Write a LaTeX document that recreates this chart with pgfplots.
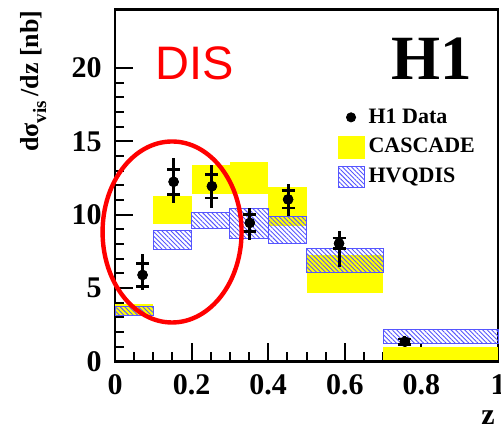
\documentclass[border=0pt]{standalone}
\usepackage{pgfplots}
\pgfplotsset{compat=1.18}
\usepackage{pgfplotstable}
\usepackage{fontspec}
\setmainfont{Liberation Serif}
\newfontfamily\arialfont{Liberation Sans}
\usetikzlibrary{patterns.meta}

\definecolor{hvqblue}{RGB}{85,85,255}
\definecolor{cascyellow}{RGB}{255,255,0}

% H1 data: x, y, total error (+/-), statistical error (+/-)
\pgfplotstableread{
x     y     tp    tm    sp    sm
0.072 5.90  1.43  1.05  0.77  0.77
0.153 12.25 1.62  1.45  0.85  0.85
0.253 11.95 1.42  1.49  0.80  0.80
0.352 9.45  1.00  1.16  0.57  0.57
0.452 11.05 1.05  1.16  0.60  0.60
0.585 8.05  0.85  1.58  0.36  0.36
0.757 1.35  0.38  0.30  0.20  0.20
}\hone

\tikzset{
  hvq/.style={draw=hvqblue, line width=0.5pt,
    pattern={Lines[angle=-45,distance=1.6pt,line width=0.45pt]}, pattern color=hvqblue},
}

% prediction bands: xlo xhi ylo yhi
\newcommand{\cascbox}[4]{\addplot[forget plot, fill=cascyellow, draw=none] coordinates {(#1,#3) (#2,#3) (#2,#4) (#1,#4)} -- cycle;}
\newcommand{\hvqbox}[4]{\addplot[forget plot, hvq] coordinates {(#1,#3) (#2,#3) (#2,#4) (#1,#4)} -- cycle;}

\begin{document}
\begin{tikzpicture}
\begin{axis}[
  scale only axis, width=191.5pt, height=176pt,
  xmin=0, xmax=1, ymin=0, ymax=24,
  clip=false,
  axis line style={line width=1.25pt},
  tick pos=left, tick align=inside,
  xtick={0,0.2,0.4,0.6,0.8,1}, minor x tick num=3,
  ytick={0,5,10,15,20}, minor y tick num=4,
  major tick length=9pt, minor tick length=4.5pt,
  tick style={black, line width=1pt},
  /pgf/number format/assume math mode=true,
  ticklabel style={font=\bfseries\fontsize{15}{15}\selectfont, inner sep=0pt},
  xticklabel style={anchor=base, yshift=-16.75pt},
  yticklabel style={anchor=east, xshift=-6.5pt},
  xlabel={z},
  xlabel style={at={(axis description cs:0.974,-0.18)}, anchor=base, inner sep=0pt,
    font=\bfseries\fontsize{15}{15}\selectfont},
  ylabel={dσ\raisebox{-4pt}{\fontsize{9.5}{9.5}\selectfont vis}\,/dz [nb]},
  ylabel style={at={(axis description cs:-0.201,0.998)}, anchor=base east, inner sep=0pt,
    font=\bfseries\fontsize{13}{13}\selectfont},
  legend style={at={(rel axis cs:0.58,0.731)}, anchor=north west, draw=none, fill=none,
    inner sep=0pt, row sep=2.1pt, font=\bfseries\fontsize{11}{11}\selectfont,
    /tikz/every even column/.append style={column sep=3.5pt}},
  legend cell align=left,
]
% CASCADE
\cascbox{0.0}{0.1}{3.17}{3.92}
\cascbox{0.1}{0.2}{9.37}{11.30}
\cascbox{0.2}{0.3}{11.42}{13.41}
\cascbox{0.3}{0.4}{11.40}{13.58}
\cascbox{0.4}{0.5}{9.25}{11.93}
\cascbox{0.5}{0.7}{4.67}{7.27}
\cascbox{0.7}{1.0}{0.08}{1.01}
% HVQDIS
\hvqbox{0.0}{0.1}{3.17}{3.74}
\hvqbox{0.1}{0.2}{7.61}{8.92}
\hvqbox{0.2}{0.3}{9.09}{10.16}
\hvqbox{0.3}{0.4}{8.38}{10.46}
\hvqbox{0.4}{0.5}{8.02}{9.92}
\hvqbox{0.5}{0.7}{6.04}{7.73}
\hvqbox{0.7}{1.0}{1.24}{2.20}

% total errors
\addplot[forget plot, only marks, mark=none,
  error bars/.cd, y dir=both, y explicit, error mark=none,
  error bar style={black, solid, line width=1.5pt}]
  table[x=x, y=y, y error plus=tp, y error minus=tm] {\hone};
% statistical errors
\addplot[forget plot, only marks, mark=*, mark size=2.4pt, black,
  error bars/.cd, y dir=both, y explicit, error mark=-,
  error bar style={black, solid, line width=1.5pt},
  error mark options={rotate=90, black, line width=1.25pt, mark size=3.25pt}]
  table[x=x, y=y, y error plus=sp, y error minus=sm] {\hone};
% data points
\addplot[forget plot, only marks, mark=*, mark size=2.4pt, black]
  table[x=x, y=y] {\hone};

\addlegendimage{legend image code/.code={\fill[black] (6.5pt,0pt) circle (2.3pt); \path[draw=none, fill=none] (0pt,-5.5pt) rectangle (13pt,5.5pt);}}
\addlegendentry{H1 Data}
\addlegendimage{legend image code/.code={\fill[cascyellow] (0pt,-5.5pt) rectangle (13pt,5.5pt);}}
\addlegendentry{CASCADE}
\addlegendimage{legend image code/.code={\draw[hvq] (0pt,-5.25pt) rectangle (13pt,5.25pt);}}
\addlegendentry{HVQDIS}

\draw[red, line width=2.2pt] (axis cs:0.149,8.83) ellipse [x radius=34.75pt, y radius=45.25pt];
\node[anchor=base west, text=red, inner sep=0pt, font=\arialfont\fontsize{23.5}{23.5}\selectfont]
  at (rel axis cs:0.104,0.8) {DIS};
\node[anchor=base east, inner sep=0pt, font=\bfseries\fontsize{31.5}{31.5}\selectfont]
  at (rel axis cs:0.932,0.8) {H1};
\end{axis}
\pgfresetboundingbox
\path[use as bounding box] ([shift={(-57.5pt,-34.75pt)}]current axis.south west)
  rectangle ([shift={(193pt,180.75pt)}]current axis.south west);
\end{tikzpicture}
\end{document}
